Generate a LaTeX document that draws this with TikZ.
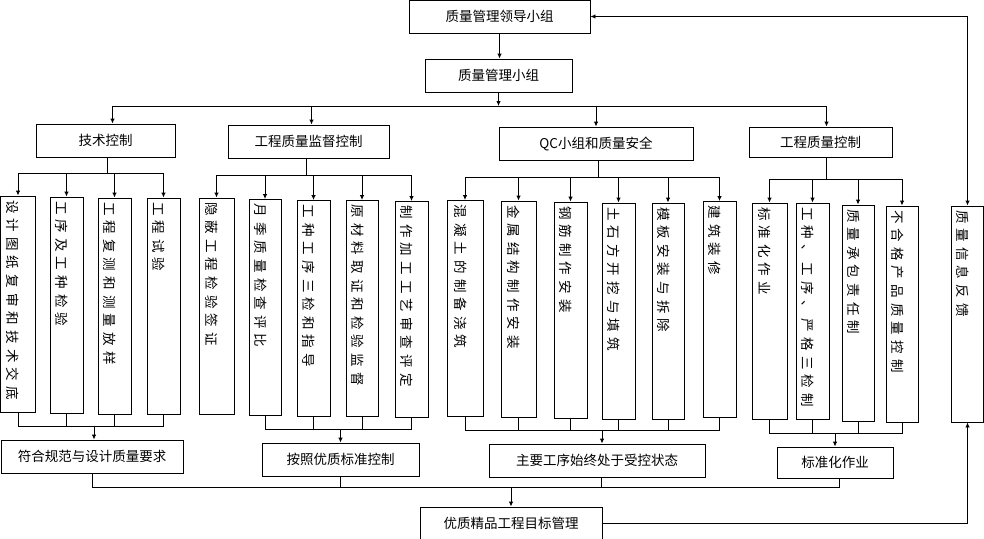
\documentclass[tikz,border=0pt]{standalone}
\usepackage{fontspec}
\newfontfamily\cjk{Noto Sans CJK SC}
\newfontfamily\cjkv[LetterSpace=38]{Noto Sans CJK SC}
\usetikzlibrary{arrows.meta}

\begin{document}
\begin{tikzpicture}[x=1pt,y=-1pt,line width=0.9pt,>={Latex[length=5pt,width=4.5pt]},
    box/.style={draw,font=\cjk\fontsize{13.5}{16}\selectfont,minimum height=33pt,inner sep=0pt},
    vbox/.style={draw,rotate=-90,font=\cjkv\fontsize{13.5}{16}\selectfont,minimum width=216pt,
      text width=208pt,inner sep=4pt,align=left,text height=20pt,text depth=0pt}]
  \useasboundingbox (0,0) rectangle (984,538);
  \node[box,minimum width=181pt] (lead) at (499.5,16.5) {质量管理领导小组};
  \node[box,minimum width=147pt] (grp) at (498.5,75.5) {质量管理小组};
  \node[box,minimum width=139pt] (tech) at (105.5,140.5) {技术控制};
  \node[box,minimum width=161pt] (sup) at (308.5,141.5) {工程质量监督控制};
  \node[box,minimum width=194pt] (qc) at (596,143.5) {QC小组和质量安全};
  \node[box,minimum width=143pt,minimum height=30pt] (ctrl) at (820.5,142) {工程质量控制};

  \node[vbox,minimum height=35pt] (t1) at (18,304) {设计图纸复审和技术交底};
  \node[vbox,minimum height=33pt] (t2) at (66.5,305) {工序及工种检验};
  \node[vbox,minimum height=33pt] (t3) at (114.5,306) {工程复测和测量放样};
  \node[vbox,minimum height=33pt] (t4) at (163.5,306) {工程试验};
  \node[vbox,minimum height=35pt] (s1) at (216.5,306) {隐蔽工程检验签证};
  \node[vbox,minimum height=32pt] (s2) at (265,307.5) {月季质量检查评比};
  \node[vbox,minimum height=33pt] (s3) at (313.5,308.5) {工种工序三检和指导};
  \node[vbox,minimum height=32pt] (s4) at (362,308.5) {原材料取证和检验监督};
  \node[vbox,minimum height=33pt] (s5) at (411.5,309.5) {制作加工工艺审查评定};
  \node[vbox,minimum height=36pt] (q1) at (465,308.5) {混凝土的制备浇筑};
  \node[vbox,minimum height=35pt] (q2) at (518.5,309) {金属结构制作安装};
  \node[vbox,minimum height=33pt] (q3) at (570.5,310) {钢筋制作安装};
  \node[vbox,minimum height=33pt] (q4) at (618.5,311) {土石方开挖与填筑};
  \node[vbox,minimum height=32pt] (q5) at (668,311) {模板安装与拆除};
  \node[vbox,minimum height=33pt] (q6) at (719.5,309.5) {建筑装修};
  \node[vbox,minimum height=35pt] (c1) at (769.5,311) {标准化作业};
  \node[vbox,minimum height=33pt] (c2) at (812.5,311) {工种、工序、严格三检制};
  \node[vbox,minimum height=32pt] (c3) at (858,313) {质量承包责任制};
  \node[vbox,minimum height=32pt] (c4) at (902,314) {不合格产品质量控制};
  \node[vbox,minimum height=32pt] (fb) at (967.5,314) {质量信息反馈};

  \node[box,minimum width=182pt] (r1) at (92,456.5) {符合规范与设计质量要求};
  \node[box,minimum width=157pt] (r2) at (340.5,459.5) {按照优质标准控制};
  \node[box,minimum width=216pt] (r3) at (597,460.5) {主要工序始终处于受控状态};
  \node[box,minimum width=116pt,minimum height=31pt] (r4) at (835,462.5) {标准化作业};
  \node[box,minimum width=182pt,minimum height=32pt] (goal) at (511,523) {优质精品工程目标管理};

  \draw[->] (lead.south) -- (lead.south |- grp.north);
  \draw[->] (grp.south) -- (grp.south |- 0,106);
  \draw ([xshift=7pt]tech.north |- 0,106) -- ([xshift=6pt]ctrl.north |- 0,106);
  \path[->] ([xshift=7pt]tech.north |- 0,106) edge ([xshift=7pt]tech.north)
    ([xshift=3pt]sup.north |- 0,106) edge ([xshift=3pt]sup.north)
    (qc.north |- 0,106) edge (qc.north)
    ([xshift=6pt]ctrl.north |- 0,106) edge ([xshift=6pt]ctrl.north);

  \draw ([xshift=1.5pt]tech.south) -- ([xshift=1.5pt]tech.south |- 0,173);
  \draw (t1.west |- 0,173) -- (t4.west |- 0,173);
  \path[->] (t1.west |- 0,173) edge (t1.west) (t2.west |- 0,173) edge (t2.west)
    (t3.west |- 0,173) edge (t3.west) (t4.west |- 0,173) edge (t4.west);
  \draw ([xshift=-2.5pt]sup.south) -- ([xshift=-2.5pt]sup.south |- 0,175);
  \draw (s1.west |- 0,175) -- (s5.west |- 0,175);
  \path[->] (s1.west |- 0,175) edge (s1.west) (s2.west |- 0,175) edge (s2.west)
    (s3.west |- 0,175) edge (s3.west) (s4.west |- 0,175) edge (s4.west)
    (s5.west |- 0,175) edge (s5.west);
  \draw ([xshift=2pt]qc.south) -- ([xshift=2pt]qc.south |- 0,177);
  \draw (q1.west |- 0,177) -- (q6.west |- 0,177);
  \path[->] (q1.west |- 0,177) edge (q1.west) (q2.west |- 0,177) edge (q2.west)
    (q3.west |- 0,177) edge (q3.west) (q4.west |- 0,177) edge (q4.west)
    (q5.west |- 0,177) edge (q5.west) (q6.west |- 0,177) edge (q6.west);
  \draw ([xshift=6pt]ctrl.south) -- ([xshift=6pt]ctrl.south |- 0,179);
  \draw (c1.west |- 0,179) -- (c4.west |- 0,179);
  \path[->] (c1.west |- 0,179) edge (c1.west) (c2.west |- 0,179) edge (c2.west)
    (c3.west |- 0,179) edge (c3.west) (c4.west |- 0,179) edge (c4.west);

  \draw (t1.east) |- (t4.east |- 0,426) -- (t4.east);
  \path (t2.east) edge (t2.east |- 0,426) (t3.east) edge (t3.east |- 0,426);
  \draw[->] ([xshift=2pt]r1.north |- 0,426) -- ([xshift=2pt]r1.north);
  \draw (s2.east) |- (s5.east |- 0,429) -- (s5.east);
  \path (s3.east) edge (s3.east |- 0,429) (s4.east) edge (s4.east |- 0,429);
  \draw[->] (r2.north |- 0,429) -- (r2.north);
  \draw (q1.east) |- (q6.east |- 0,430) -- (q6.east);
  \path (q2.east) edge (q2.east |- 0,430) (q3.east) edge (q3.east |- 0,430)
    (q4.east) edge (q4.east |- 0,430) (q5.east) edge (q5.east |- 0,430);
  \draw[->] ([xshift=5pt]r3.north |- 0,430) -- ([xshift=5pt]r3.north);
  \draw (c1.east) |- (c4.east |- 0,433) -- (c4.east);
  \path (c2.east) edge (c2.east |- 0,433) (c3.east) edge (c3.east |- 0,433);
  \draw[->] (r4.north |- 0,433) -- (r4.north);

  \draw (r1.south) |- ([xshift=4pt]r4.south |- 0,487) -- ([xshift=4pt]r4.south);
  \path (r2.south) edge (r2.south |- 0,487) ([xshift=4pt]r3.south) edge ([xshift=4pt]r3.south |- 0,487);
  \draw[->] (goal.north |- 0,487) -- (goal.north);

  \draw[<->] (lead.east) -| (fb.west);
  \draw[->] (goal.east) -| (fb.east);
\end{tikzpicture}
\end{document}
